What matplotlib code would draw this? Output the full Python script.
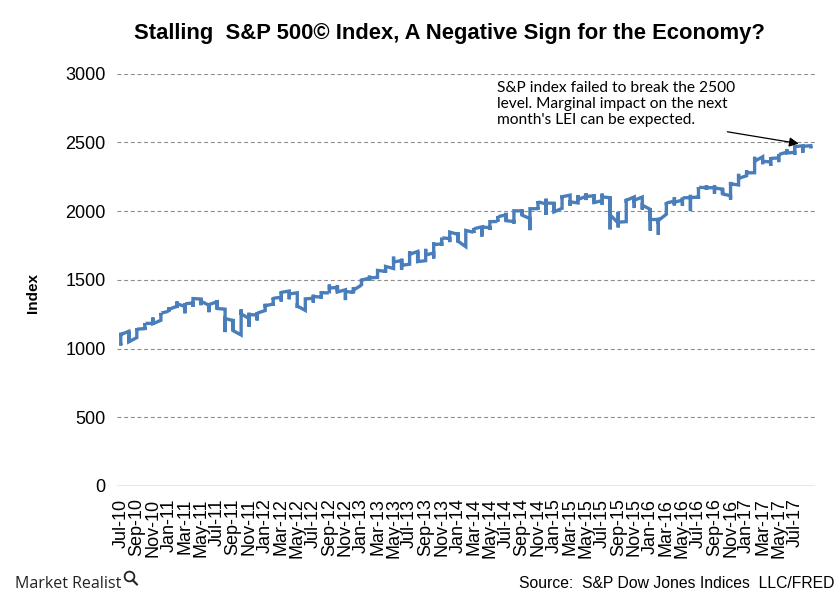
import matplotlib
matplotlib.use("Agg")
import matplotlib.pyplot as plt
import numpy as np
from matplotlib.lines import Line2D

# S&P 500, monthly first / low / high / last close, Jul-10 .. Sep-17
first = [1027, 1126, 1080, 1146, 1184, 1206,
         1272, 1308, 1306, 1332, 1361, 1315, 1340, 1287, 1204, 1099, 1218, 1245,
         1277, 1324, 1374, 1419, 1406, 1278, 1366, 1375, 1405, 1445, 1428, 1409,
         1462, 1513, 1518, 1562, 1583, 1640, 1614, 1707, 1640, 1695, 1762, 1801,
         1832, 1742, 1846, 1886, 1881, 1925, 1973, 1925, 2002, 1946, 2018, 2053,
         2058, 2021, 2117, 2060, 2108, 2112, 2077, 2098, 1914, 1924, 2104, 2103,
         2013, 1939, 1978, 2073, 2081, 2099, 2103, 2171, 2171, 2161, 2112, 2191,
         2258, 2280, 2396, 2359, 2388, 2430, 2429, 2476, 2477]
low = [1023, 1047, 1080, 1135, 1178, 1206,
       1270, 1295, 1257, 1305, 1316, 1265, 1292, 1120, 1130, 1099, 1159, 1205,
       1277, 1313, 1343, 1359, 1295, 1278, 1335, 1365, 1403, 1409, 1353, 1402,
       1457, 1496, 1518, 1552, 1583, 1573, 1614, 1631, 1640, 1656, 1747, 1775,
       1774, 1742, 1841, 1816, 1863, 1924, 1931, 1910, 1972, 1862, 2012, 1973,
       1993, 2021, 2040, 2060, 2081, 2058, 2047, 1868, 1882, 1924, 2023, 2012,
       1859, 1829, 1978, 2042, 2040, 2001, 2089, 2157, 2128, 2126, 2085, 2191,
       2258, 2280, 2342, 2329, 2357, 2419, 2410, 2426, 2458]
high = [1115, 1128, 1148, 1186, 1226, 1260,
        1300, 1343, 1332, 1364, 1363, 1321, 1353, 1287, 1216, 1285, 1261, 1265,
        1326, 1372, 1417, 1419, 1406, 1362, 1392, 1418, 1466, 1461, 1428, 1447,
        1508, 1531, 1569, 1598, 1669, 1654, 1710, 1710, 1726, 1772, 1807, 1848,
        1848, 1860, 1878, 1891, 1924, 1963, 1988, 2003, 2011, 2018, 2073, 2091,
        2063, 2116, 2117, 2118, 2131, 2124, 2128, 2104, 1995, 2090, 2110, 2103,
        2017, 1952, 2064, 2102, 2099, 2119, 2175, 2190, 2187, 2164, 2213, 2272,
        2298, 2396, 2396, 2391, 2416, 2453, 2478, 2481, 2477]
last = [1102, 1049, 1141, 1183, 1181, 1258,
        1286, 1327, 1326, 1364, 1345, 1321, 1292, 1219, 1131, 1253, 1247, 1258,
        1312, 1366, 1409, 1398, 1310, 1362, 1379, 1407, 1441, 1412, 1416, 1426,
        1498, 1515, 1569, 1598, 1631, 1606, 1686, 1633, 1682, 1757, 1806, 1848,
        1783, 1860, 1872, 1884, 1924, 1960, 1931, 2003, 1972, 2018, 2068, 2059,
        1995, 2105, 2068, 2086, 2107, 2063, 2104, 1972, 1920, 2079, 2080, 2044,
        1940, 1932, 2060, 2065, 2097, 2099, 2174, 2171, 2168, 2126, 2199, 2239,
        2279, 2364, 2363, 2384, 2412, 2423, 2470, 2472, 2461]

tick_labels = ["Jul-10", "Sep-10", "Nov-10",
               "Jan-11", "Mar-11", "May-11", "Jul-11", "Sep-11", "Nov-11",
               "Jan-12", "Mar-12", "May-12", "Jul-12", "Sep-12", "Nov-12",
               "Jan-13", "Mar-13", "May-13", "Jul-13", "Sep-13", "Nov-13",
               "Jan-14", "Mar-14", "May-14", "Jul-14", "Sep-14", "Nov-14",
               "Jan-15", "Mar-15", "May-15", "Jul-15", "Sep-15", "Nov-15",
               "Jan-16", "Mar-16", "May-16", "Jul-16", "Sep-16", "Nov-16",
               "Jan-17", "Mar-17", "May-17", "Jul-17"]

plt.rcParams['font.family'] = ['Liberation Sans', 'DejaVu Sans']

n = len(first)
# every point of a month sits on the same x, like the excel date axis
xs = np.repeat(np.arange(n), 4)
ys = np.column_stack([first, low, high, last]).ravel()

fig = plt.figure(figsize=(8.4, 6), dpi=100)
ax = fig.add_axes([0.139, 0.19, 0.831, 0.687])

for v in range(500, 3001, 500):
    ax.axhline(v, color='#8c8c8c', lw=0.8, ls=(0, (3.5, 2.5)), zorder=1)
ax.axhline(0, color='#8c8c8c', lw=1.0, zorder=1)

ax.plot(xs, ys, color='#4a7ebb', lw=2.4, solid_joinstyle='miter', zorder=3)

ax.set_xlim(-0.5, 86.5)
ax.set_ylim(0, 3000)
ax.set_yticks(range(0, 3001, 500))
ax.set_xticks(np.arange(0, 2 * len(tick_labels), 2))
ax.set_xticklabels(tick_labels, rotation=90, fontsize=13)
ax.tick_params(axis='y', labelsize=13, length=0, pad=8)
ax.tick_params(axis='x', length=0, pad=9)
for s in ax.spines.values():
    s.set_visible(False)

ax.set_ylabel("Index", fontsize=11, fontweight='bold')
ax.yaxis.set_label_coords(-0.11, 0.468)

fig.text(0.535, 0.945, "Stalling  S&P 500\u00a9 Index, A Negative Sign for the Economy?",
         ha='center', va='center', fontsize=15.8, fontweight='bold')

ax.text(46.9, 2950, "S&P index failed to break the 2500\nlevel. Marginal impact on the next\nmonth's LEI can be expected.",
        ha='left', va='top', fontsize=11.2, family=['Lato', 'DejaVu Sans'], linespacing=1.2)
ax.annotate("", xy=(84.5, 2492), xytext=(75.6, 2578),
            arrowprops=dict(arrowstyle='-|>', color='black', lw=0.9,
                            mutation_scale=14, shrinkA=0, shrinkB=0))

fig.text(0.994, 0.028, "Source:  S&P Dow Jones Indices  LLC/FRED",
         ha='right', va='center', fontsize=11.3)

fig.text(0.018, 0.027, "Market Realist", ha='left', va='center', fontsize=11.5,
         family=['Open Sans', 'DejaVu Sans'], color='#222222')
# little magnifier next to the logo text
fig.add_artist(Line2D([0.153], [0.040], marker='o', ms=7, mfc='none', mec='#222222',
                      mew=1.3, transform=fig.transFigure))
fig.add_artist(Line2D([0.158, 0.163], [0.033, 0.026], color='#222222', lw=1.5,
                      transform=fig.transFigure))

fig.savefig("out.png", dpi=100)
